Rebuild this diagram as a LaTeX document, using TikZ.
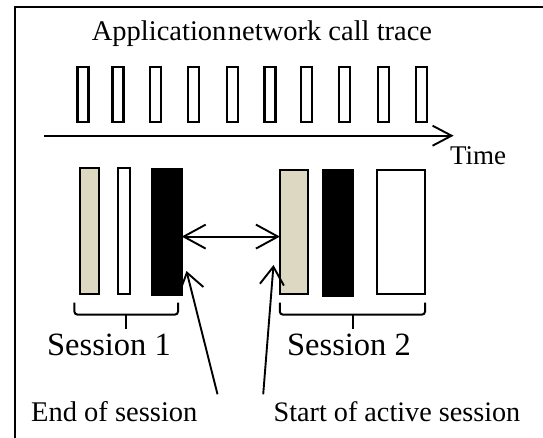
\documentclass[tikz,border=0pt]{standalone}
\usepackage{fontspec}
\setmainfont{Liberation Serif}
\usetikzlibrary{arrows.meta}
\definecolor{beige}{RGB}{221,216,194}
\begin{document}
\begin{tikzpicture}[x=1pt,y=-1pt,
  frameline/.style={line width=2.2pt},
  callbox/.style={draw,line width=2.4pt,inner sep=0pt,outer sep=0pt,anchor=north west,minimum width=11pt,minimum height=55pt},
  sessbox/.style={draw,line width=2.2pt,inner sep=0pt,outer sep=0pt,anchor=north west},
  lbl/.style={inner sep=0pt,outer sep=0pt,text=black},
  barb/.style={line width=1.9pt},
  bracestyle/.style={line width=2pt,rounded corners=3pt}]
\useasboundingbox (0,0) rectangle (543,438);
% frame
\draw[frameline] (15.3,438) -- (15.3,7.3) -- (543,7.3);
% title
\node[lbl,anchor=base] (title) at (262,40.9) {\fontsize{28.5}{30}\selectfont Application\kern1.5pt network call trace};
% call trace boxes
\foreach \i/\xx in {1/77.3,2/112.6,3/150.0,4/188.1,5/226.9,6/264.3,7/301.0,8/339.1,9/377.9,10/416.0}{
  \node[callbox] (c\i) at (\xx,66.9) {};
}
% time axis
\coordinate (t0) at (44.3,135.7);
\coordinate (t1) at (453.6,135.7);
\draw[barb,-{Straight Barb[length=19pt,width=20pt,line width=1.9pt]}] (t0) -- (t1);
\node[lbl,anchor=base west] (time) at (450,164.5) {\fontsize{27}{30}\selectfont Time};
% session boxes
\node[sessbox,fill=beige,minimum width=18.5pt,minimum height=125.3pt] (b1) at (80.1,168.4) {};
\node[sessbox,fill=white,minimum width=11.7pt,minimum height=125.3pt] (b2) at (118.1,168.4) {};
\node[sessbox,fill=black,minimum width=30pt,minimum height=126pt] (b3) at (151.7,169) {};
\node[sessbox,fill=beige,minimum width=28.2pt,minimum height=124.3pt] (b4) at (279.9,170) {};
\node[sessbox,fill=black,minimum width=29.8pt,minimum height=126pt] (b5) at (323,170) {};
\node[sessbox,fill=white,minimum width=48.1pt,minimum height=124.3pt] (b6) at (376.8,170) {};
% gap arrow
\coordinate (gy) at (0,236.6);
\draw[barb,{Straight Barb[length=22pt,width=24pt,line width=1.9pt]}-{Straight Barb[length=22pt,width=24pt,line width=1.9pt]}] (b3.east |- gy) -- (b4.west |- gy);
% braces
\coordinate (s1m) at (125.7,314.6);
\coordinate (s2m) at (353.2,314.6);
\draw[bracestyle] (74.4,302.5) |- (s1m) -| (178,302.5);
\draw[line width=2pt] (s1m) -- (125.7,328.5);
\draw[bracestyle] (279.8,302.5) |- (s2m) -| (425,302.5);
\draw[line width=2pt] (s2m) -- (353.2,328.5);
% session labels
\node[lbl,anchor=base] (sess1) at (109,355.5) {\fontsize{32.5}{34}\selectfont Session 1};
\node[lbl,anchor=base] (sess2) at (349,355.5) {\fontsize{32.5}{34}\selectfont Session 2};
% bottom labels
\node[lbl,anchor=base west] (endl) at (31.2,421.3) {\fontsize{28.5}{30}\selectfont End of session};
\node[lbl,anchor=base west] (startl) at (273.6,421.3) {\fontsize{28.2}{30}\selectfont Start of active session};
% pointer arrows
\coordinate (p1) at (217.5,394.3);
\coordinate (q1) at (186.5,271);
\coordinate (p2) at (263.2,394.3);
\coordinate (q2) at (273.5,265);
\draw[barb,-{Straight Barb[length=18pt,width=25pt,line width=1.9pt]}] (p1) -- (q1);
\draw[barb,-{Straight Barb[length=18pt,width=24pt,line width=1.9pt]}] (p2) -- (q2);
\end{tikzpicture}
\end{document}
